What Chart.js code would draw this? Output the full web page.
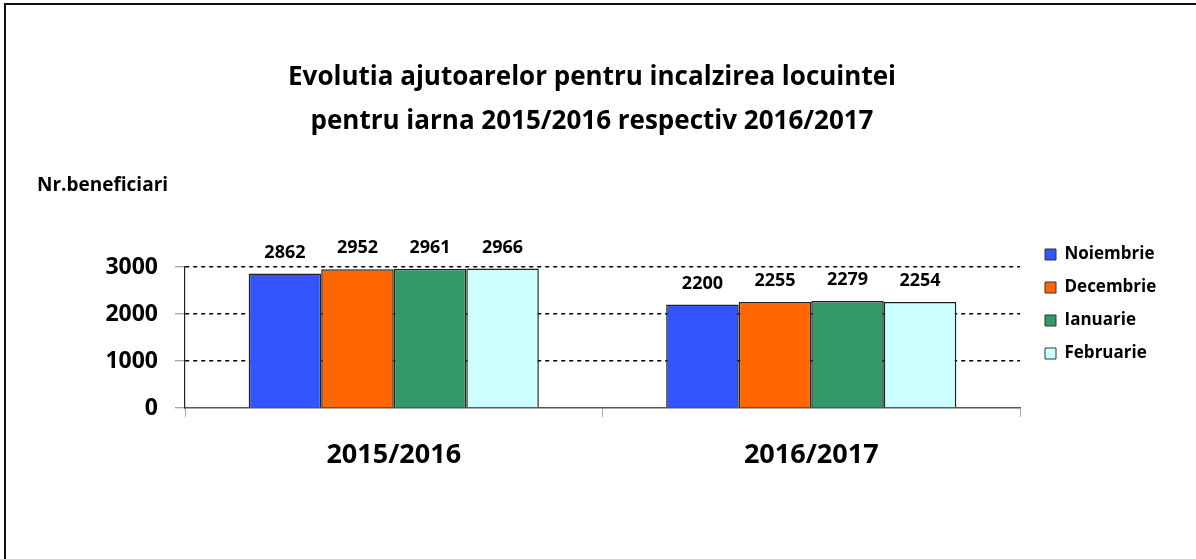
<!DOCTYPE html>
<html>
<head>
<meta charset="utf-8">
<script src="https://cdn.jsdelivr.net/npm/chart.js@4.4.1/dist/chart.umd.min.js"></script>
<style>
  html, body { margin: 0; padding: 0; background: #fff; }
  #wrap { position: relative; width: 1196px; height: 559px; }
  #frame { position: absolute; left: 4px; top: 3px; right: -10px; bottom: -10px;
           border-left: 2px solid #111; border-top: 2px solid #111; pointer-events: none; }
</style>
</head>
<body>
<div id="wrap">
  <canvas id="graph" width="1196" height="559"></canvas>
  <div id="frame"></div>
</div>
<script>
const iarna = ['2015/2016', '2016/2017']
const luni = ['Noiembrie', 'Decembrie', 'Ianuarie', 'Februarie']
const noiembrie = [2862, 2200]
const decembrie = [2952, 2255]
const ianuarie = [2961, 2279]
const februarie = [2966, 2254]
const tickuriY = [0, 1000, 2000, 3000]

const culori = ['#3355FF', '#FF6600', '#339966', '#CCFFFF']
const serii = [noiembrie, decembrie, ianuarie, februarie]

const FONT = "'Open Sans', 'Liberation Sans', sans-serif"

// etichete cu valori deasupra barelor
const etichete = {
  id: 'etichete',
  afterLayout(chart) {
    // legenda putin mai la dreapta, fara sa taie textul
    chart.legend.left += 9
    chart.legend.right = chart.width
    chart.legend.width = chart.legend.right - chart.legend.left
  },
  afterDatasetsDraw(chart) {
    const ctx = chart.ctx
    ctx.save()
    ctx.font = 'bold 18px ' + FONT
    ctx.fillStyle = '#000'
    ctx.textAlign = 'center'
    ctx.textBaseline = 'middle'
    chart.data.datasets.forEach((ds, i) => {
      chart.getDatasetMeta(i).data.forEach((bar, j) => {
        ctx.fillText(ds.data[j], bar.x, bar.y - 21)
      })
    })
    ctx.restore()
  }
}

const data = {
  labels: iarna,
  datasets: luni.map((l, i) => ({
    label: l,
    data: serii[i],
    backgroundColor: culori[i],
    borderColor: '#222',
    borderWidth: 1.5,
    barPercentage: 1.0,
    categoryPercentage: 0.695
  }))
}

const config = {
  type: 'bar',
  data: data,
  options: {
    responsive: false,
    animation: false,
    devicePixelRatio: 1,
    layout: { padding: { top: 49, left: 37, right: 49, bottom: 0 } },
    plugins: {
      title: {
        display: true,
        text: ['Evolutia ajutoarelor pentru incalzirea locuintei', 'pentru iarna 2015/2016 respectiv 2016/2017'],
        color: '#000',
        font: { family: FONT, size: 26, weight: 'bold', lineHeight: 43.2 / 26 },
        padding: { top: 7.4, bottom: 31.8 }
      },
      subtitle: {
        display: true,
        text: 'Nr.beneficiari',
        align: 'start',
        color: '#000',
        font: { family: FONT, size: 19, weight: 'bold', lineHeight: 1.2 },
        padding: { top: 0, bottom: 69.6 }
      },
      legend: {
        position: 'right',
        align: 'center',
        maxWidth: 127,
        labels: {
          color: '#000',
          font: { family: FONT, size: 17, weight: 'bold' },
          boxWidth: 11,
          boxHeight: 11,
          padding: 16,
          generateLabels(chart) {
            return chart.data.datasets.map((ds, i) => ({
              text: ds.label,
              fillStyle: ds.backgroundColor,
              strokeStyle: '#333',
              lineWidth: 1,
              datasetIndex: i
            }))
          }
        }
      },
      tooltip: { enabled: false }
    },
    scales: {
      x: {
        afterFit(scale) { scale.height = 151 },
        grid: { drawOnChartArea: false, offset: true, tickLength: 9, tickColor: '#aaa', tickWidth: 1 },
        border: { color: '#555', width: 1.5 },
        ticks: { color: '#000', padding: 21.8, font: { family: FONT, size: 27, weight: 'bold', lineHeight: 1.2 } }
      },
      y: {
        min: 0,
        max: 3000,
        afterFit(scale) { scale.width = 148 },
        afterBuildTicks(scale) { scale.ticks = tickuriY.map(v => ({ value: v })) },
        grid: {
          color: c => (c.tick && c.tick.value === 0) ? 'rgba(0,0,0,0)' : '#000',
          lineWidth: 1.5,
          tickLength: 10,
          tickColor: '#888',
          tickWidth: 1,
          tickBorderDash: []
        },
        border: { color: '#222', width: 1.2, dash: [4, 4] },
        ticks: {
          color: '#000',
          padding: 17,
          font: { family: FONT, size: 23, weight: 'bold' },
          callback: v => String(v)
        }
      }
    }
  },
  plugins: [etichete]
}

const myChart = new Chart(document.getElementById('graph'), config)
</script>
</body>
</html>
